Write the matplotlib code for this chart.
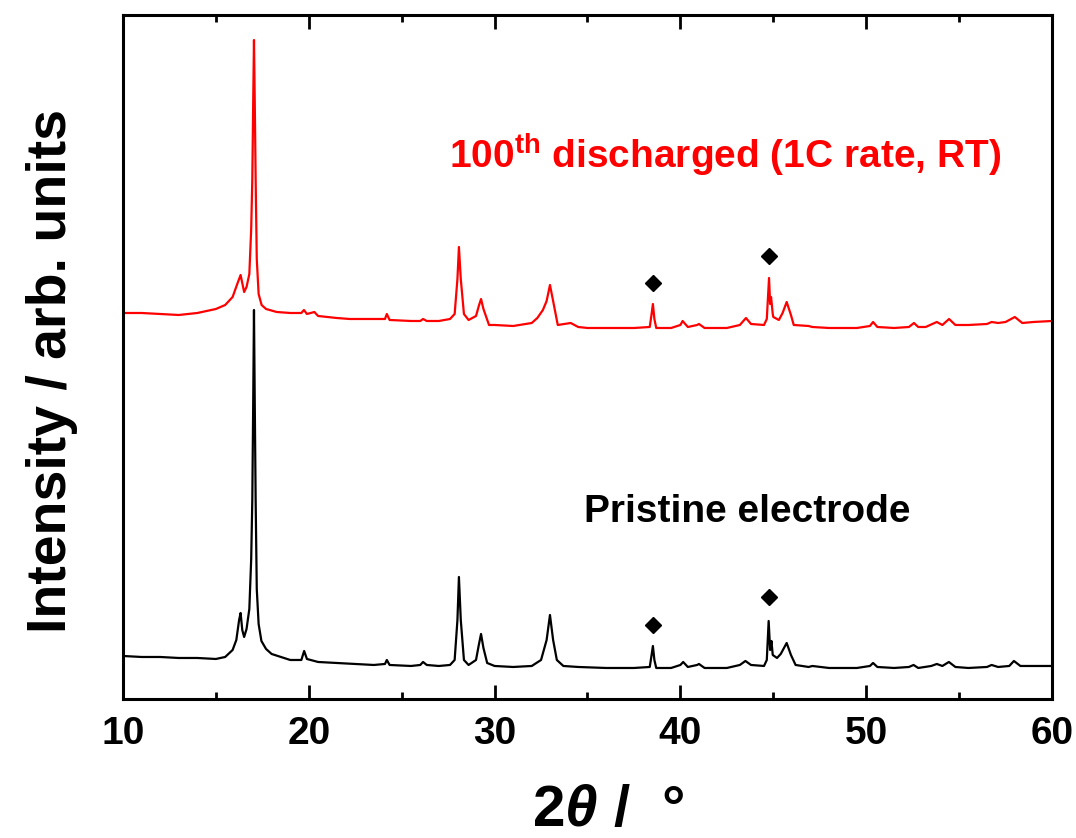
import matplotlib
matplotlib.use("Agg")
import matplotlib.pyplot as plt
from matplotlib.ticker import MultipleLocator, NullLocator

plt.rcParams['font.family'] = ['Liberation Sans', 'DejaVu Sans']
plt.rcParams['font.weight'] = 'bold'
plt.rcParams['mathtext.fontset'] = 'custom'
plt.rcParams['mathtext.rm'] = 'Liberation Sans:bold'
plt.rcParams['mathtext.bf'] = 'Liberation Sans:bold'
plt.rcParams['mathtext.it'] = 'Liberation Sans:italic:bold'

# ---- data (2theta in degrees, intensity in arb. units) ----
pristine_2theta = [10.0, 11, 12, 13, 14, 15, 15.5, 15.9, 16.1, 16.25, 16.33, 16.42, 16.52, 16.65,
                   16.8, 16.9, 16.96, 17.01, 17.05, 17.09, 17.14, 17.2, 17.3, 17.45, 17.7, 18.0,
                   18.5, 19.0, 19.6, 19.75, 19.9, 20.5, 21.5, 22.5, 23.5, 24.1, 24.2, 24.35, 25.5,
                   26.0, 26.15, 26.35, 27.0, 27.6, 27.85, 28.0, 28.08, 28.18, 28.35, 28.6, 29.0,
                   29.15, 29.27, 29.4, 29.6, 30, 31, 32.0, 32.5, 32.8, 32.98, 33.15, 33.35, 33.7,
                   34.5, 36, 37.5, 38.35, 38.45, 38.52, 38.6, 38.7, 39.5, 40.0, 40.15, 40.4, 40.9,
                   41.0, 41.3, 42.5, 43.2, 43.5, 43.8, 44.5, 44.65, 44.75, 44.83, 44.9, 44.97,
                   45.2, 45.4, 45.72, 45.95, 46.2, 46.9, 47.1, 48, 49.5, 50.2, 50.37, 50.6, 51.5,
                   52.3, 52.55, 52.8, 53.5, 53.8, 54.1, 54.45, 54.8, 55.5, 56.5, 56.75, 57.1,
                   57.7, 57.95, 58.3, 59, 60]
pristine_int = [43, 42, 42, 41, 41, 40, 42, 49, 59, 79, 86, 69, 62, 70,
                90, 140, 199, 300, 389, 300, 199, 110, 75, 58, 50, 45,
                42, 39, 39, 48, 40, 37, 36, 35, 34, 35, 39, 34, 33,
                34, 37, 34, 33, 34, 39, 79, 122, 79, 39, 34, 39,
                54, 65, 51, 36, 33, 32, 33, 39, 59, 84, 59, 39, 33,
                32, 31, 31, 32, 44, 53, 39, 31, 31, 34, 37, 32, 34,
                35, 31, 31, 34, 38, 34, 33, 39, 78, 49, 58, 44,
                41, 45, 56, 44, 34, 32, 33, 31, 31, 33, 36, 32, 31,
                32, 34, 31, 33, 35, 33, 37, 32, 31, 32, 34, 32,
                33, 38, 33, 33, 33]

cycled_2theta = [10, 11, 12, 13, 14, 15, 15.5, 15.9, 16.15, 16.33, 16.52, 16.65, 16.8, 16.9,
                 16.96, 17.01, 17.05, 17.09, 17.14, 17.2, 17.3, 17.46, 17.7, 18.27, 19.0, 19.6,
                 19.74, 19.9, 20.3, 20.5, 21.5, 22.2, 23.5, 24.1, 24.2, 24.35, 25.5, 26.0, 26.15,
                 26.35, 27.0, 27.6, 27.85, 28.0, 28.08, 28.18, 28.35, 28.6, 29.0, 29.15, 29.27,
                 29.4, 29.7, 30, 31, 32.0, 32.3, 32.6, 32.8, 32.98, 33.15, 33.4, 34.1, 34.5, 35,
                 36, 37.5, 38.35, 38.45, 38.52, 38.6, 38.7, 39.5, 40.0, 40.12, 40.4, 40.9, 41.0,
                 41.3, 42.5, 43.2, 43.53, 43.8, 44.5, 44.65, 44.77, 44.83, 44.88, 44.97, 45.0,
                 45.3, 45.5, 45.72, 45.95, 46.1, 46.9, 47.1, 48, 49.5, 50.2, 50.37, 50.6, 51.5,
                 52.3, 52.57, 52.8, 53.2, 53.8, 54.1, 54.46, 54.8, 55.5, 56.5, 56.75, 57.1, 57.5,
                 58.0, 58.4, 59, 60]
cycled_int = [386, 386, 385, 384, 386, 390, 394, 402, 415, 424, 407, 412, 425, 470,
              520, 600, 659, 600, 520, 440, 405, 394, 390, 387, 386, 386,
              389, 385, 387, 383, 381, 380, 380, 380, 385, 379, 378, 378, 380,
              378, 378, 380, 385, 420, 452, 420, 385, 379, 383, 393, 400,
              390, 374, 374, 373, 376, 381, 389, 398, 414, 398, 374, 376, 372, 371,
              371, 371, 372, 385, 395, 380, 371, 371, 374, 378, 372, 374, 375,
              371, 371, 374, 381, 375, 374, 380, 421, 395, 402, 385, 382,
              379, 386, 397, 384, 374, 373, 372, 371, 371, 373, 377, 372, 371,
              372, 376, 372, 372, 377, 374, 380, 374, 374, 375, 377, 376, 377,
              382, 376, 377, 378]

marker_2theta = [38.5, 44.77]
marker_int_cycled = [416, 443]
marker_int_pristine = [74, 102]

# ---- figure ----
fig = plt.figure(figsize=(10.76, 8.38), dpi=100)
ax = fig.add_axes([0.1143, 0.1659, 0.8634, 0.8162])

ax.plot(pristine_2theta, pristine_int, color='black', lw=1.6)
ax.plot(cycled_2theta, cycled_int, color='#ff0000', lw=1.6)
ax.plot(marker_2theta, marker_int_cycled, 'D', color='black', ms=8, ls='none')
ax.plot(marker_2theta, marker_int_pristine, 'D', color='black', ms=8, ls='none')

ax.text(42.4, 544, r'100$^{\mathbf{th}}$ discharged (1C rate, RT)', color='#ff0000',
        fontsize=28, fontweight='bold', ha='center', va='center')
ax.text(43.6, 187, 'Pristine electrode', color='black',
        fontsize=28, fontweight='bold', ha='center', va='center')

ax.set_xlim(10, 60)
ax.set_ylim(0, 684)
ax.xaxis.set_major_locator(MultipleLocator(10))
ax.xaxis.set_minor_locator(MultipleLocator(5))
ax.yaxis.set_major_locator(NullLocator())
ax.yaxis.set_minor_locator(NullLocator())
ax.tick_params(axis='x', which='both', direction='in', top=True, bottom=True,
               width=2, labelsize=28, pad=12)
ax.tick_params(axis='x', which='major', length=10)
ax.tick_params(axis='x', which='minor', length=5)
for lab in ax.get_xticklabels():
    lab.set_fontweight('bold')
for s in ax.spines.values():
    s.set_linewidth(2.2)

ax.set_xlabel('2$\\theta$ /  °', fontsize=42, fontweight='bold')
ax.xaxis.set_label_coords(0.522, -0.124)
ax.set_ylabel('Intensity / arb. units', fontsize=40, fontweight='bold')
ax.yaxis.set_label_coords(-0.048, 0.48)

fig.savefig('out.png', dpi=100)
